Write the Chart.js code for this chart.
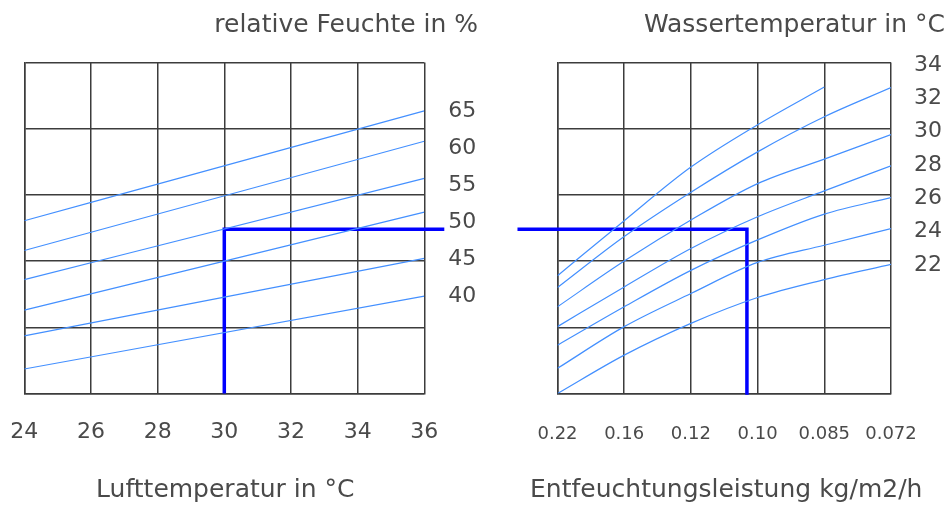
<!doctype html>
<html>

<head>
  <title>Entfeuchtung Diagramm</title>
  <script src="https://cdn.jsdelivr.net/npm/chart.js@4.4.1/dist/chart.umd.min.js"></script>
  <style>
    body {
      margin: 0;
      background: #fff;
    }
    .chart {
      position: absolute;
      top: 0;
      height: 505px;
    }
    #left { left: 0; width: 490px; }
    #right { left: 490px; width: 457px; }
  </style>
</head>

<body>
  <div class="chart" id="left"><canvas id="airChart"></canvas></div>
  <div class="chart" id="right"><canvas id="waterChart"></canvas></div>

  <script>
    // left panel: air temperature vs. relative humidity (grid units 0..5)
    var airTemp = [24, 36];
    var rhLabels = [65, 60, 55, 50, 45, 40];
    var rh65 = [2.61, 4.27];
    var rh60 = [2.16, 3.81];
    var rh55 = [1.72, 3.25];
    var rh50 = [1.26, 2.74];
    var rh45 = [0.87, 2.04];
    var rh40 = [0.37, 1.47];

    // right panel: dehumidification rate vs. water temperature
    var rateLabels = ['0.22', '0.16', '0.12', '0.10', '0.085', '0.072'];
    var ratePos = [0, 1, 2, 3, 4, 5];
    var waterLabels = [34, 32, 30, 28, 26, 24, 22];
    var w34 = [1.78, 2.61, 3.42, 4.06, 4.63];
    var w32 = [1.60, 2.37, 3.04, 3.65, 4.18, 4.62];
    var w30 = [1.31, 2.00, 2.62, 3.17, 3.54, 3.91];
    var w28 = [1.01, 1.61, 2.19, 2.67, 3.06, 3.44];
    var w26 = [0.73, 1.31, 1.86, 2.32, 2.71, 2.96];
    var w24 = [0.38, 1.01, 1.51, 1.98, 2.24, 2.49];
    var w22 = [0.00, 0.58, 1.06, 1.45, 1.72, 1.95];

    // example reading: 30 °C, 50 % -> 24 °C water -> ~0.10
    var readAir = [30, 30, 36.6];
    var readAirY = [0, 2.48, 2.48];
    var readRate = [-0.6, 2.84, 2.84];
    var readRateY = [2.48, 2.48, -0.02];

    var FONT = 'DejaVu Sans';
    var TEXT = '#4a4a4a';
    var GRID = '#3c3c3c';
    var CURVE = '#4490ff';
    var MARK = '#0000ff';

    // axis caption under the tick labels, drawn without the width squeeze
    // that the built-in scale title applies
    var captionPlugin = {
      id: 'caption',
      afterDraw: function(chart, args, opts) {
        var ctx = chart.ctx;
        var area = chart.chartArea;
        ctx.save();
        ctx.font = opts.size + 'px "' + FONT + '"';
        ctx.fillStyle = TEXT;
        ctx.textAlign = 'center';
        ctx.textBaseline = 'middle';
        ctx.fillText(opts.text, (area.left + area.right) / 2 + (opts.shift || 0), opts.y);
        ctx.restore();
      }
    };

    function pts(xs, ys) {
      return ys.map(function(y, i) { return {x: xs[i], y: y}; });
    }

    function curve(xs, ys) {
      return {
        data: pts(xs, ys),
        borderColor: CURVE,
        borderWidth: 1.2,
        pointRadius: 0,
        cubicInterpolationMode: 'monotone'
      };
    }

    function marker(xs, ys) {
      return {
        data: pts(xs, ys),
        borderColor: MARK,
        borderWidth: 3.5,
        pointRadius: 0,
        clip: false
      };
    }

    function fixWidth(w) {
      return function(scale) {
        scale.width = w;
        scale.paddingTop = 0;
        scale.paddingBottom = 0;
      };
    }

    function fixHeight(h) {
      return function(scale) {
        scale.height = h;
        scale.paddingLeft = 0;
        scale.paddingRight = 0;
      };
    }

    function setTicks(values) {
      return function(scale) {
        scale.ticks = values.map(function(v) { return {value: v}; });
      };
    }

    function baseOptions(o) {
      return {
        responsive: true,
        maintainAspectRatio: false,
        animation: false,
        events: [],
        layout: {padding: {left: o.padLeft, right: o.padRight, top: 0, bottom: 0}},
        plugins: {
          legend: {display: false},
          tooltip: {enabled: false},
          title: {
            display: true,
            text: o.title,
            align: 'end',
            color: TEXT,
            font: {family: FONT, size: 25, weight: 'normal'},
            padding: {top: 10, bottom: 22.5}
          },
          caption: {text: o.xTitle, size: 25, y: 490, shift: o.captionShift}
        },
        scales: {
          x: {
            type: 'linear',
            min: o.xMin,
            max: o.xMax,
            afterFit: fixHeight(111.5),
            afterBuildTicks: setTicks(o.xTicks),
            grid: {color: GRID, lineWidth: 1.5, drawTicks: false},
            border: {color: GRID, width: 1.5},
            ticks: {
              color: TEXT,
              padding: o.xPad,
              font: {family: FONT, size: o.xFont},
              maxRotation: 0,
              callback: o.xLabel
            }
          },
          y: {
            type: 'linear',
            position: 'left',
            min: 0,
            max: 5,
            afterFit: fixWidth(0),
            ticks: {display: false, stepSize: 1},
            grid: {color: GRID, lineWidth: 1.5, drawTicks: false},
            border: {color: GRID, width: 1.5}
          },
          y2: {
            type: 'linear',
            position: 'right',
            min: o.y2Min,
            max: o.y2Max,
            afterFit: fixWidth(o.y2Width),
            afterBuildTicks: setTicks(o.y2Ticks),
            grid: {drawOnChartArea: false, drawTicks: false},
            border: {display: false},
            ticks: {
              color: TEXT,
              padding: o.y2Pad,
              font: {family: FONT, size: 22}
            }
          }
        }
      };
    }

    var airConfig = {
      type: 'line',
      data: {
        datasets: [
          curve(airTemp, rh65),
          curve(airTemp, rh60),
          curve(airTemp, rh55),
          curve(airTemp, rh50),
          curve(airTemp, rh45),
          curve(airTemp, rh40),
          marker(readAir, readAirY)
        ]
      },
      options: baseOptions({
        title: 'relative Feuchte in %',
        padLeft: 24.3,
        padRight: 12,
        xMin: 24,
        xMax: 36,
        xTicks: [24, 26, 28, 30, 32, 34, 36],
        xFont: 22,
        xPad: 26,
        xLabel: function(v) { return v; },
        xTitle: 'Lufttemperatur in °C',
        captionShift: 1,
        y2Min: 26.79,
        y2Max: 71.64,
        y2Ticks: rhLabels,
        y2Width: 53.7,
        y2Pad: 24
      }),
      plugins: [captionPlugin]
    };

    var waterConfig = {
      type: 'line',
      data: {
        datasets: [
          curve(ratePos, w34),
          curve(ratePos, w32),
          curve(ratePos, w30),
          curve(ratePos, w28),
          curve(ratePos, w26),
          curve(ratePos, w24),
          curve(ratePos, w22),
          marker(readRate, readRateY)
        ]
      },
      options: baseOptions({
        title: 'Wassertemperatur in °C',
        padLeft: 67.5,
        padRight: 2,
        xMin: 0,
        xMax: 5,
        xTicks: ratePos,
        xFont: 18,
        xPad: 30,
        xLabel: function(v) { return rateLabels[v]; },
        xTitle: 'Entfeuchtungsleistung kg/m2/h',
        captionShift: 2,
        y2Min: 14.29,
        y2Max: 34.15,
        y2Ticks: waterLabels,
        y2Width: 54,
        y2Pad: 23
      }),
      plugins: [captionPlugin]
    };

    window.onload = function() {
      window.airChart = new Chart(document.getElementById('airChart'), airConfig);
      window.waterChart = new Chart(document.getElementById('waterChart'), waterConfig);
    };
  </script>
</body>

</html>
